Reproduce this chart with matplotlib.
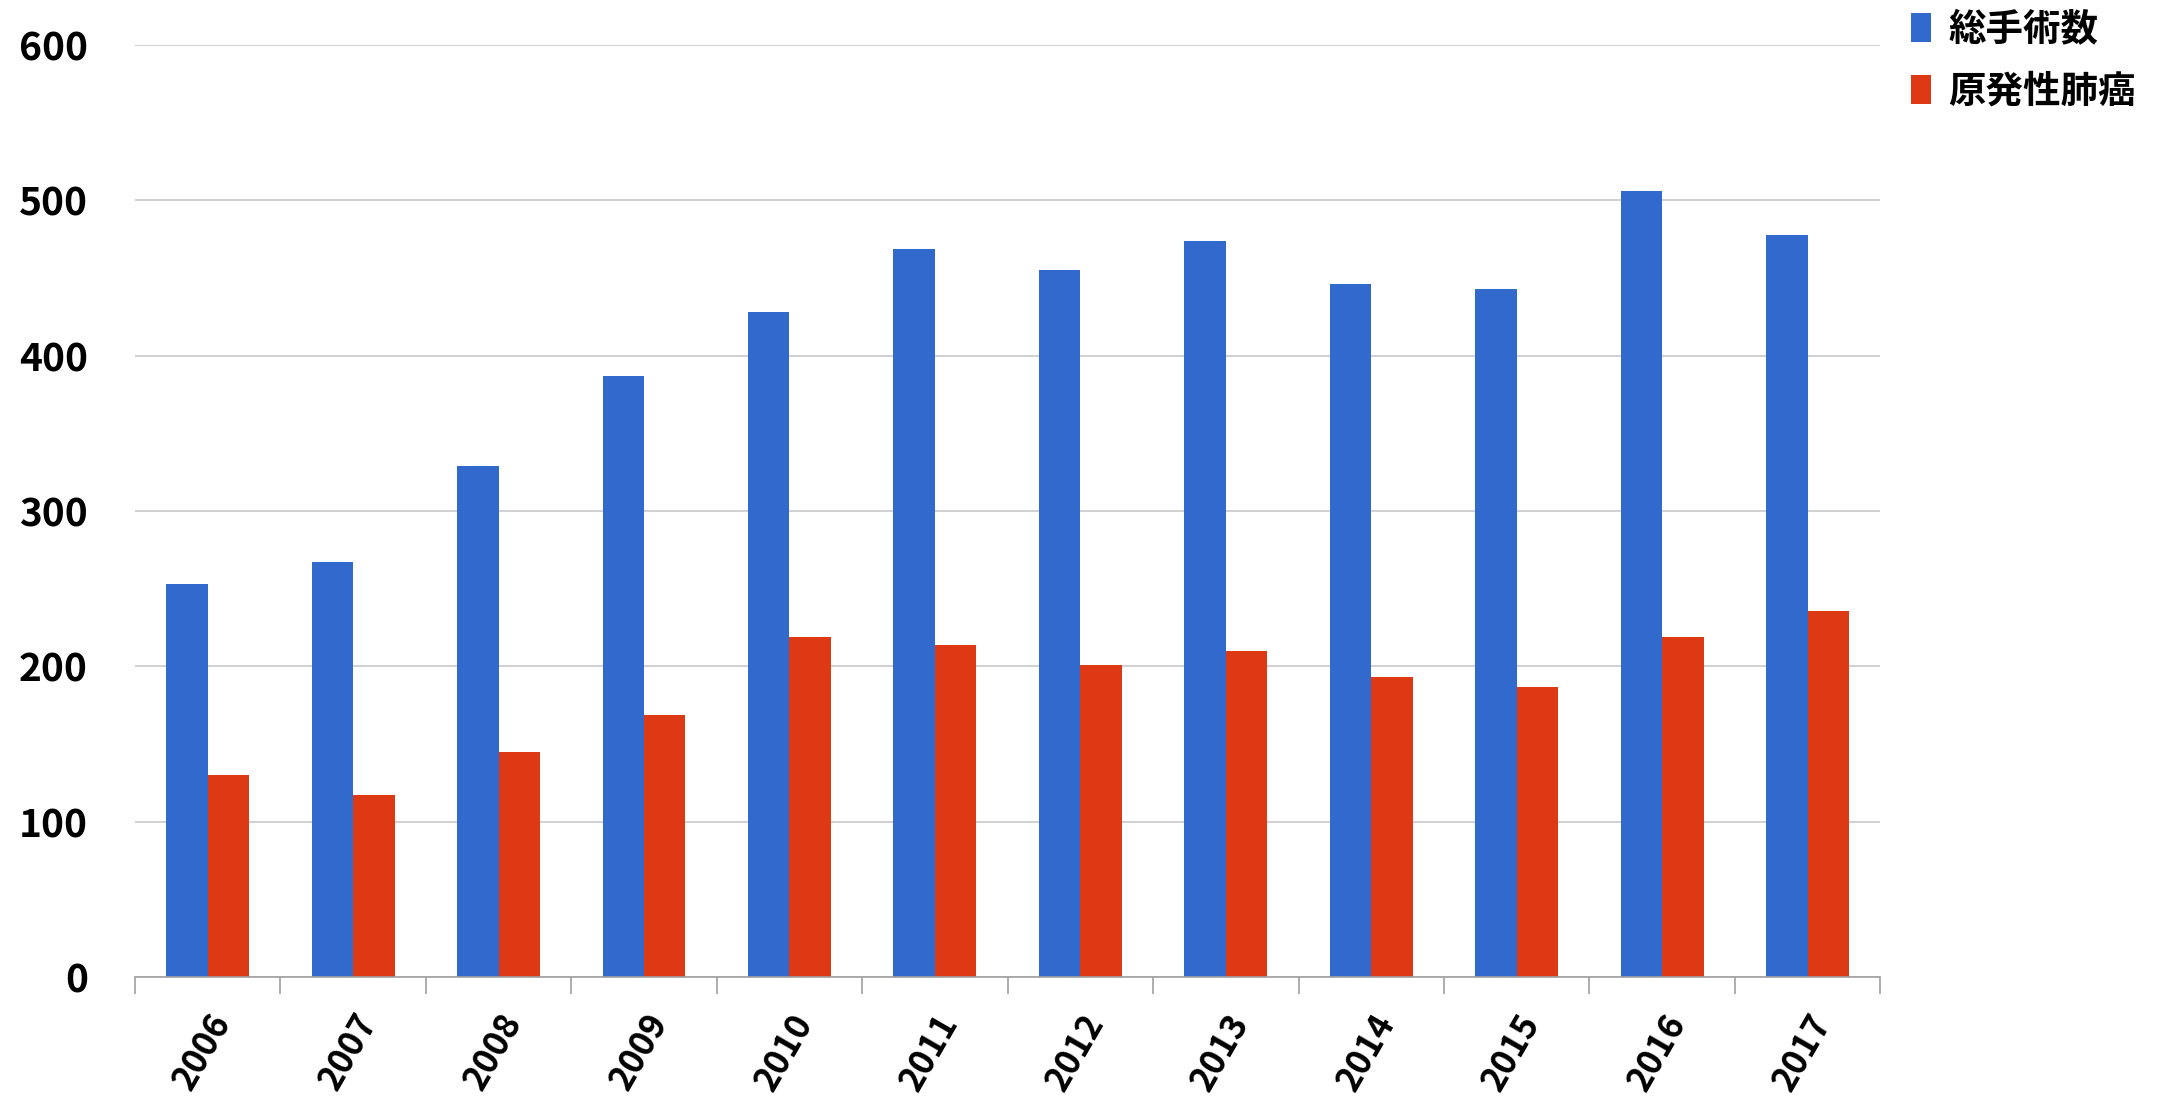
import matplotlib
matplotlib.use("Agg")
import matplotlib.pyplot as plt
import numpy as np

plt.rcParams["font.family"] = ["Noto Sans CJK JP", "DejaVu Sans"]

years = ["2006", "2007", "2008", "2009", "2010", "2011", "2012", "2013",
         "2014", "2015", "2016", "2017"]
total_ops = [253, 267, 329, 387, 428, 469, 455, 474, 446, 443, 506, 478]
lung_cancer = [130, 117, 145, 169, 219, 214, 201, 210, 193, 187, 219, 236]

BLUE = "#3169cc"
RED = "#dd3915"

fig = plt.figure(figsize=(21.6, 11.01), dpi=100)
ax = fig.add_axes([0.0625, 0.1125, 0.808, 0.8465])

x = np.arange(len(years))
w = 0.285
ax.bar(x - w / 2, total_ops, w, color=BLUE, label="総手術数")
ax.bar(x + w / 2, lung_cancer, w, color=RED, label="原発性肺癌")

ax.set_xlim(-0.5, len(years) - 0.5)
ax.set_ylim(0, 600)
ax.set_yticks(range(0, 601, 100))
ax.yaxis.grid(True, color="#c8c8c8", linewidth=1.2)
ax.set_axisbelow(True)
for s in ["top", "right", "left"]:
    ax.spines[s].set_visible(False)
ax.spines["bottom"].set_color("#a0a0a0")
ax.spines["bottom"].set_linewidth(1.2)
ax.tick_params(axis="y", length=0, labelsize=28, pad=34)
ax.set_xticks(np.arange(-0.5, len(years), 1.0), minor=False)
ax.set_xticklabels([])
ax.set_xticks(x, minor=True)
ax.set_xticklabels(years, minor=True, rotation=60, ha="right",
                   rotation_mode="anchor", fontsize=25, fontweight="bold")
ax.tick_params(axis="x", which="major", length=12, color="#a0a0a0", width=1.2,
               direction="out")
ax.tick_params(axis="x", which="minor", length=0, pad=22)
for lab in ax.get_yticklabels():
    lab.set_fontweight("bold")
    lab.set_horizontalalignment("right")

fig.legend(loc="upper left", bbox_to_anchor=(0.869, 1.022), frameon=False,
           prop={"size": 27, "weight": "bold"}, handlelength=0.55,
           handleheight=0.8, handletextpad=0.45, labelspacing=0.62)

fig.savefig("out.png", dpi=100, facecolor="white")
